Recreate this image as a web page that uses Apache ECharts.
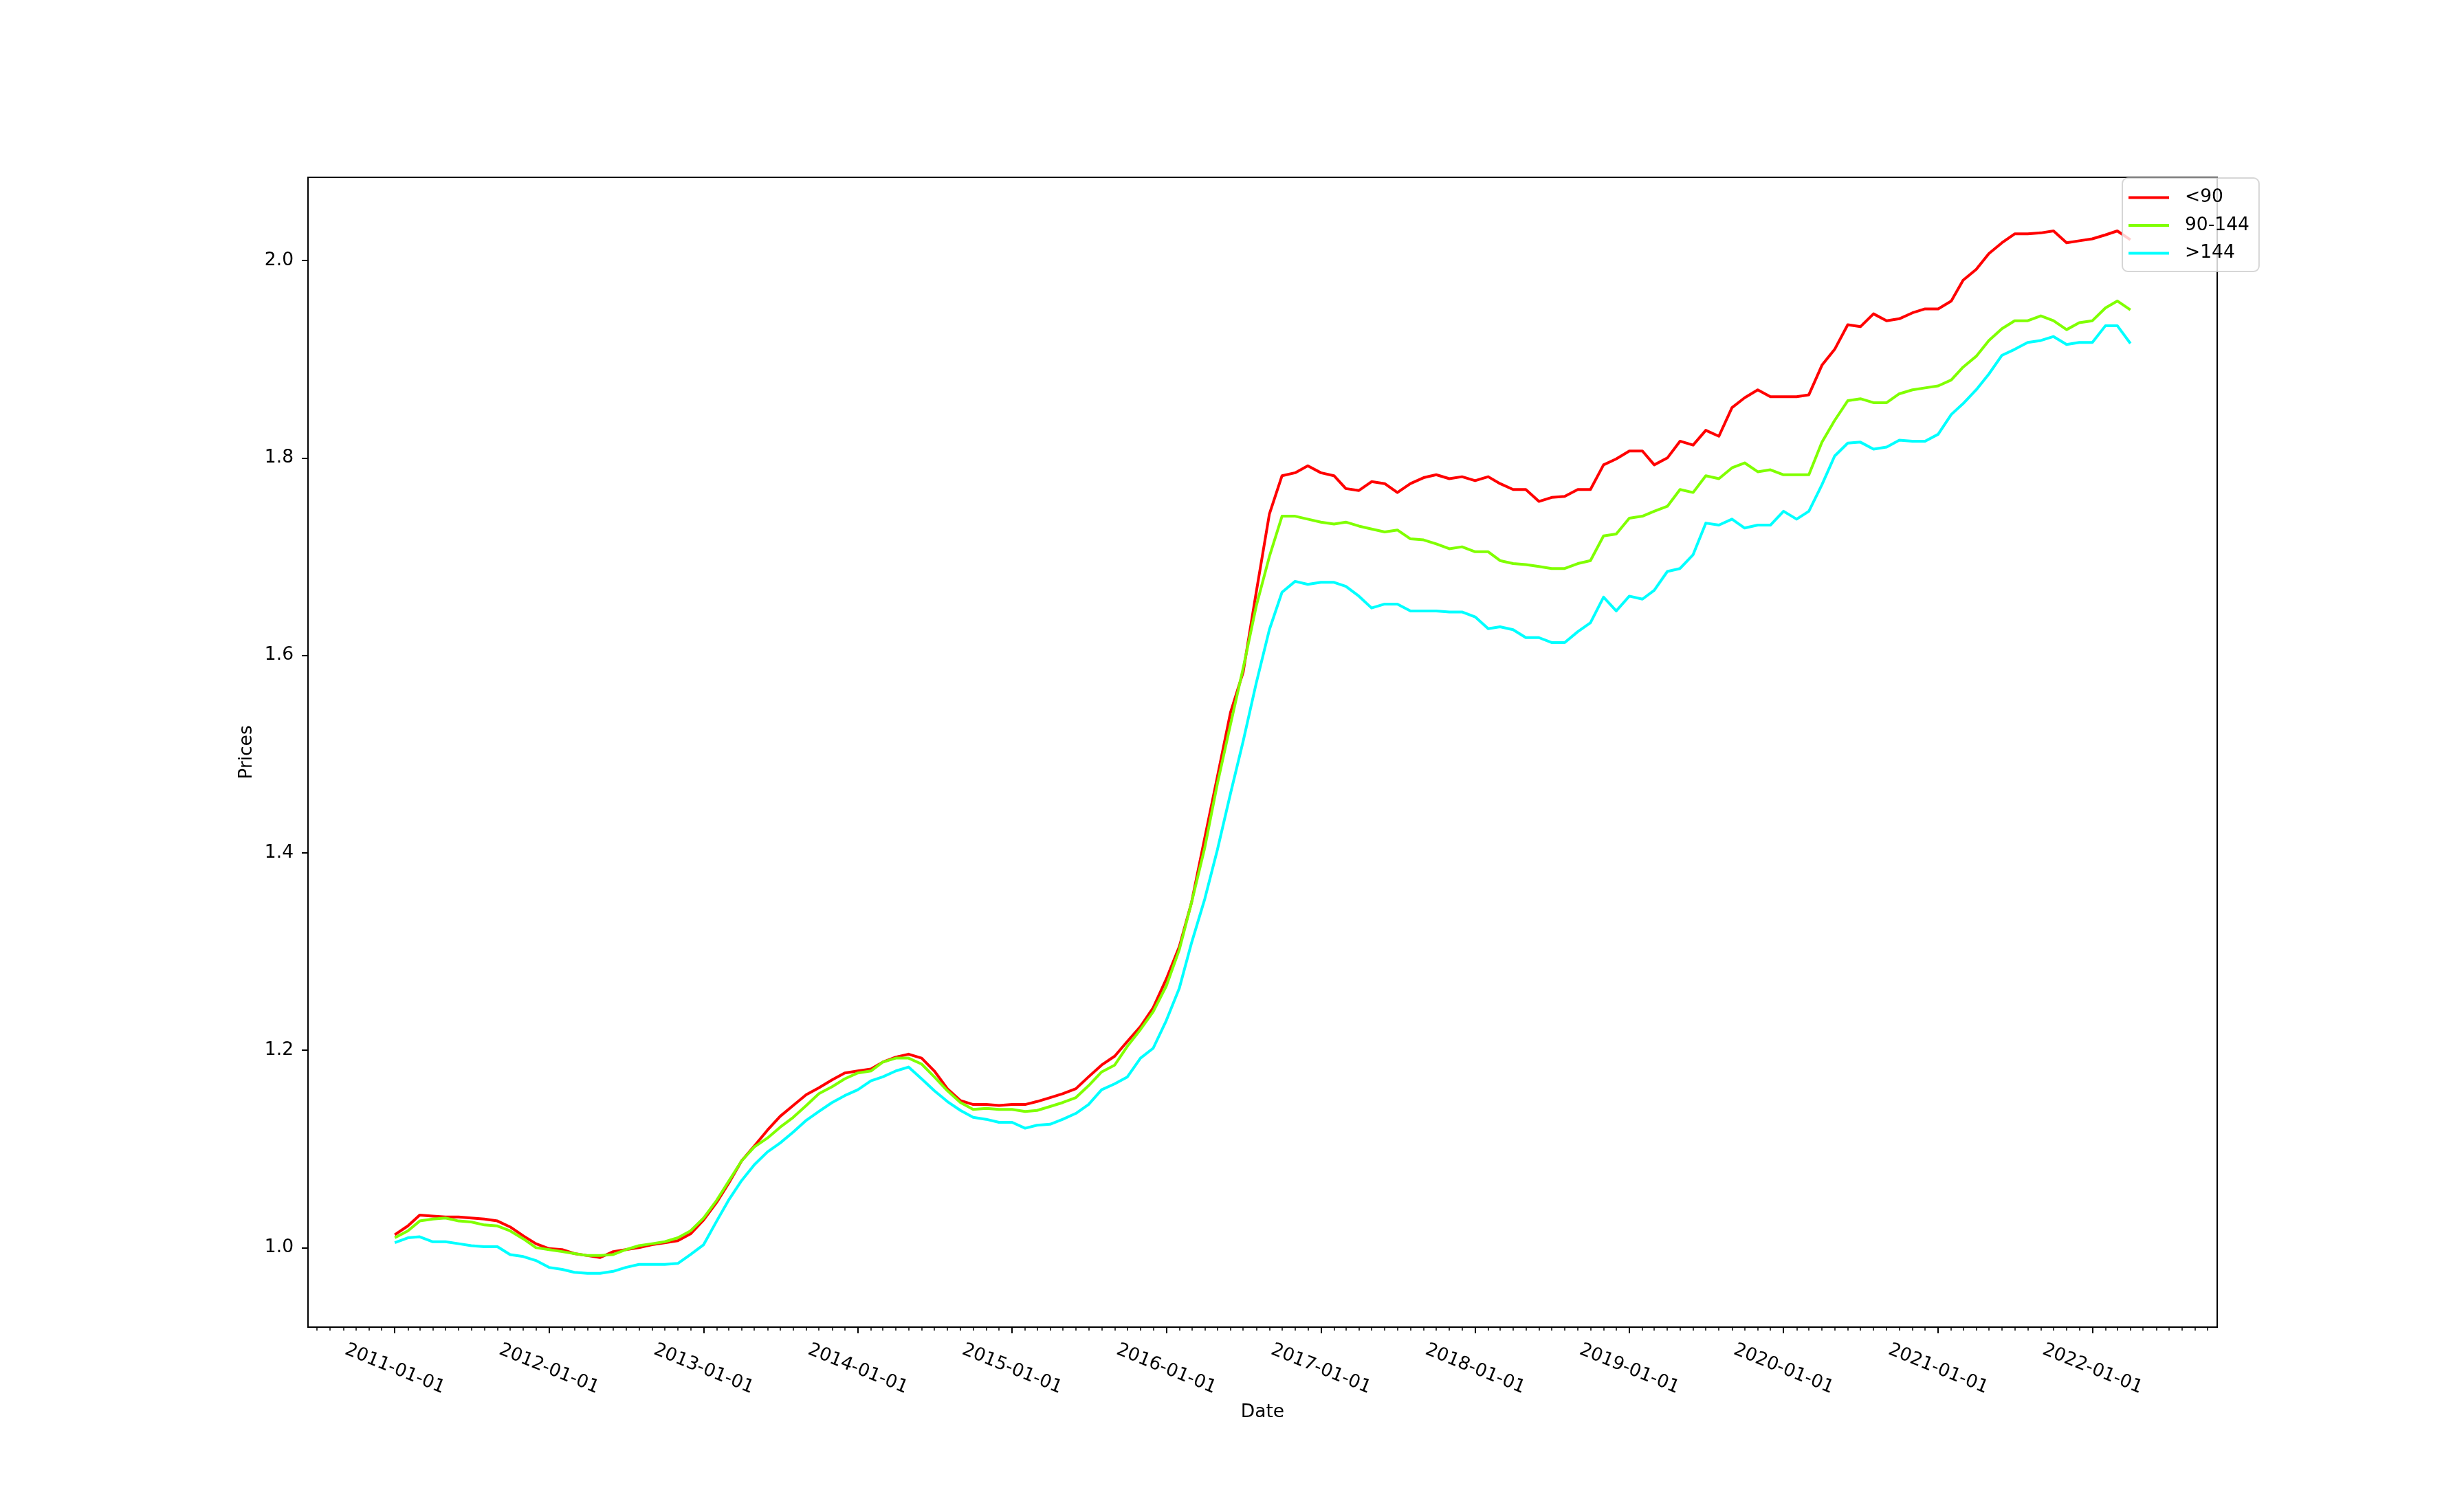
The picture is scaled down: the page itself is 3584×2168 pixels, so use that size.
<!DOCTYPE html>
<html>
<head>
<meta charset="utf-8">
<script src="https://cdn.jsdelivr.net/npm/echarts@6/dist/echarts.min.js"></script>
<style>
html,body{margin:0;padding:0;background:#fff;}
#chart{width:3584px;height:2168px;}
</style>
</head>
<body>
<div id="chart"></div>
<script>
// ---- data ----
const firstYear = 2011, firstMonth = 1, monthCount = 136; // 2011-01 .. 2022-04 monthly
const seriesNames = ['<90', '90-144', '>144'];
const under90 = [
1.013,1.022,1.033,1.032,1.031,1.031,1.030,1.029,1.027,1.021,1.012,1.004,
0.999,0.998,0.994,0.992,0.990,0.996,0.998,1.000,1.003,1.005,1.007,1.014,
1.028,1.046,1.065,1.088,1.103,1.119,1.133,1.144,1.155,1.162,1.170,1.177,
1.179,1.181,1.188,1.193,1.196,1.192,1.179,1.161,1.149,1.145,1.145,1.144,
1.145,1.145,1.148,1.152,1.156,1.161,1.173,1.185,1.194,1.209,1.224,1.243,
1.272,1.305,1.350,1.415,1.477,1.542,1.583,1.664,1.743,1.782,1.785,1.792,
1.785,1.782,1.769,1.767,1.776,1.774,1.765,1.774,1.780,1.783,1.779,1.781,
1.777,1.781,1.774,1.768,1.768,1.756,1.760,1.761,1.768,1.768,1.793,1.799,
1.807,1.807,1.793,1.800,1.817,1.813,1.828,1.822,1.851,1.861,1.869,1.862,
1.862,1.862,1.864,1.894,1.910,1.935,1.933,1.946,1.939,1.941,1.947,1.951,
1.951,1.959,1.980,1.991,2.007,2.018,2.027,2.027,2.028,2.030,2.018,2.020,
2.022,2.026,2.030,2.021
];
const mid90to144 = [
1.010,1.017,1.027,1.029,1.030,1.027,1.026,1.023,1.022,1.017,1.009,1.000,
0.998,0.996,0.994,0.992,0.992,0.993,0.998,1.002,1.004,1.006,1.010,1.017,
1.030,1.048,1.067,1.088,1.102,1.111,1.122,1.132,1.144,1.156,1.163,1.171,
1.177,1.179,1.188,1.192,1.192,1.186,1.173,1.159,1.147,1.140,1.141,1.140,
1.140,1.138,1.139,1.143,1.147,1.152,1.164,1.178,1.185,1.204,1.221,1.239,
1.265,1.302,1.350,1.405,1.470,1.530,1.587,1.650,1.700,1.741,1.741,1.738,
1.735,1.733,1.735,1.731,1.728,1.725,1.727,1.718,1.717,1.713,1.708,1.710,
1.705,1.705,1.696,1.693,1.692,1.690,1.688,1.688,1.693,1.696,1.721,1.723,
1.739,1.741,1.746,1.751,1.768,1.765,1.782,1.779,1.790,1.795,1.786,1.788,
1.783,1.783,1.783,1.816,1.838,1.858,1.860,1.856,1.856,1.865,1.869,1.871,
1.873,1.879,1.892,1.903,1.919,1.931,1.939,1.939,1.944,1.939,1.930,1.937,
1.939,1.952,1.959,1.950
];
const over144 = [
1.005,1.010,1.011,1.006,1.006,1.004,1.002,1.001,1.001,0.993,0.991,0.987,
0.980,0.978,0.975,0.974,0.974,0.976,0.980,0.983,0.983,0.983,0.984,0.993,
1.003,1.027,1.048,1.068,1.084,1.097,1.106,1.117,1.129,1.138,1.147,1.154,
1.160,1.169,1.173,1.179,1.183,1.171,1.159,1.148,1.139,1.132,1.130,1.127,
1.127,1.121,1.124,1.125,1.130,1.136,1.145,1.160,1.166,1.173,1.192,1.202,
1.230,1.263,1.309,1.353,1.403,1.460,1.513,1.572,1.626,1.664,1.675,1.672,
1.674,1.674,1.670,1.660,1.648,1.652,1.652,1.645,1.645,1.645,1.644,1.644,
1.639,1.627,1.629,1.626,1.618,1.618,1.613,1.613,1.624,1.633,1.659,1.645,
1.660,1.657,1.666,1.685,1.688,1.702,1.734,1.732,1.738,1.729,1.732,1.732,
1.746,1.738,1.746,1.773,1.802,1.815,1.816,1.809,1.811,1.818,1.817,1.817,
1.824,1.844,1.855,1.869,1.885,1.904,1.910,1.917,1.919,1.923,1.915,1.917,
1.917,1.934,1.934,1.916
];
const yTickValues = [1.0, 1.2, 1.4, 1.6, 1.8, 2.0];
const xTickLabels = ['2011-01-01','2012-01-01','2013-01-01','2014-01-01','2015-01-01','2016-01-01',
  '2017-01-01','2018-01-01','2019-01-01','2020-01-01','2021-01-01','2022-01-01'];

// ---- build ----
function monthTs(y, m) { return Date.UTC(y, m - 1, 1); }
const dates = [];
for (let k = 0; k < monthCount; k++) {
  const mm = firstMonth - 1 + k;
  dates.push(monthTs(firstYear + Math.floor(mm / 12), (mm % 12) + 1));
}
const span = dates[dates.length - 1] - dates[0];
const xMin = dates[0] - 0.05 * span;
const xMax = dates[dates.length - 1] + 0.05 * span;
const yearTicks = xTickLabels.map(s => { const p = s.split('-'); return monthTs(+p[0], +p[1]); });
const minorTicks = [];
{
  const d0 = new Date(xMin);
  let y = d0.getUTCFullYear(), m = d0.getUTCMonth() + 2;
  while (true) {
    if (m > 12) { m -= 12; y++; }
    const t = monthTs(y, m);
    if (t > xMax) break;
    if (t >= xMin) minorTicks.push(t);
    m++;
  }
}
function pair(arr) { return dates.map((d, i) => [d, arr[i]]); }
function pad(n) { return (n < 10 ? '0' : '') + n; }

const FONT = 'DejaVu Sans';
const FS = 26.5;
const colors = ['#ff0000', '#80ff00', '#00ffff'];

const chart = echarts.init(document.getElementById('chart'), null, {renderer: 'canvas'});
chart.setOption({
  animation: false,
  backgroundColor: '#ffffff',
  textStyle: {fontFamily: FONT},
  grid: {left: 448, top: 258, width: 2777, height: 1673, show: true, borderColor: '#000', borderWidth: 2, backgroundColor: 'transparent'},
  legend: {
    left: 3087, top: 259, orient: 'vertical',
    icon: 'rect', itemWidth: 59, itemHeight: 4, itemGap: 13.5,
    padding: [15, 14, 13, 9],
    backgroundColor: 'rgba(255,255,255,0.8)',
    borderColor: 'rgba(204,204,204,0.8)', borderWidth: 2, borderRadius: 8,
    textStyle: {fontFamily: FONT, fontSize: FS, color: '#000', lineHeight: 26, padding: [0, 0, 0, 18]},
    data: seriesNames
  },
  xAxis: [{
    type: 'value', min: xMin, max: xMax, gridIndex: 0, position: 'bottom',
    name: 'Date', nameLocation: 'middle', nameGap: 124,
    nameTextStyle: {fontFamily: FONT, fontSize: FS, color: '#000', verticalAlign: 'middle'},
    axisLine: {show: true, onZero: false, lineStyle: {color: '#000', width: 2}},
    axisTick: {show: true, length: 9, lineStyle: {color: '#000', width: 2}, customValues: yearTicks},
    axisLabel: {
      customValues: yearTicks, rotate: -22, margin: 61, align: 'center', verticalAlign: 'middle',
      fontFamily: FONT, fontSize: FS, color: '#000',
      formatter: function (v) { const d = new Date(v); return d.getUTCFullYear() + '-' + pad(d.getUTCMonth() + 1) + '-' + pad(d.getUTCDate()); }
    },
    splitLine: {show: false}
  }, {
    type: 'value', min: xMin, max: xMax, gridIndex: 0, position: 'bottom',
    axisLine: {show: false, onZero: false},
    axisTick: {show: true, length: 5, lineStyle: {color: '#000', width: 1.5}, customValues: minorTicks},
    axisLabel: {show: false},
    splitLine: {show: false}
  }],
  yAxis: {
    type: 'value', min: 0.9195, max: 2.0843,
    name: 'Prices', nameLocation: 'middle', nameGap: 89, nameRotate: 90,
    nameTextStyle: {fontFamily: FONT, fontSize: FS, color: '#000', verticalAlign: 'middle'},
    axisLine: {show: true, onZero: false, lineStyle: {color: '#000', width: 2}},
    axisTick: {show: true, length: 9, lineStyle: {color: '#000', width: 2}, customValues: yTickValues},
    axisLabel: {customValues: yTickValues, margin: 21, fontFamily: FONT, fontSize: FS, color: '#000',
      formatter: v => v.toFixed(1)},
    splitLine: {show: false}
  },
  series: [
    {name: seriesNames[0], type: 'line', data: pair(under90), color: colors[0]},
    {name: seriesNames[1], type: 'line', data: pair(mid90to144), color: colors[1]},
    {name: seriesNames[2], type: 'line', data: pair(over144), color: colors[2]}
  ].map(s => Object.assign(s, {showSymbol: false, symbol: 'none', lineStyle: {width: 4, join: 'round', color: s.color}, itemStyle: {color: s.color}}))
});
</script>
</body>
</html>
